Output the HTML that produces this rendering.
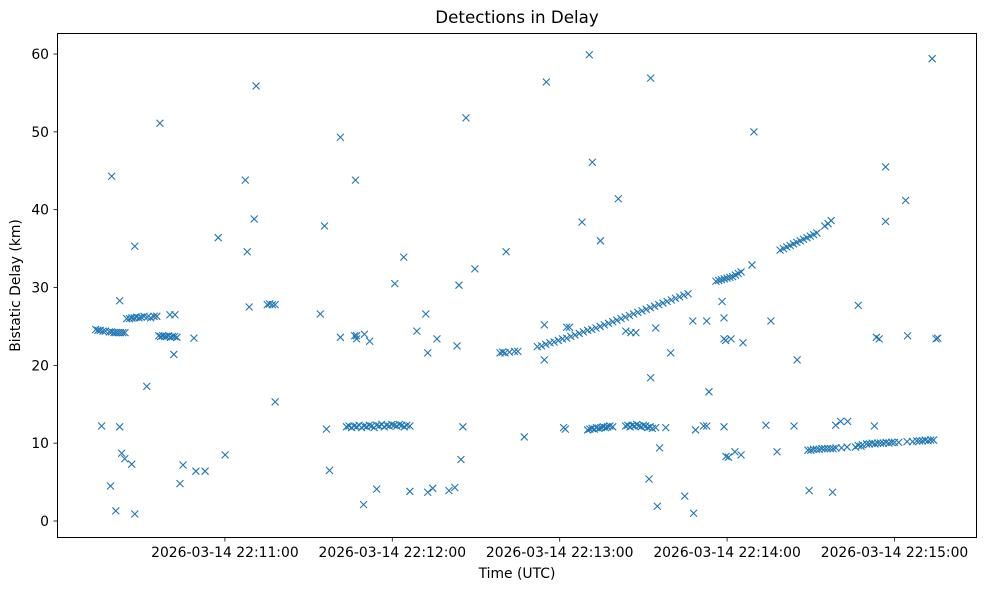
<!DOCTYPE html>
<html><head><meta charset="utf-8"><style>
body{margin:0;background:#fff}
svg{display:block;font-family:"DejaVu Sans","Liberation Sans",sans-serif}
</style></head><body>
<svg id="chart" width="987" height="590" viewBox="0 0 987 590" xmlns="http://www.w3.org/2000/svg">
<rect width="987" height="590" fill="#fff"/>
<text x="517" y="23" font-size="16.7" text-anchor="middle" fill="#000">Detections in Delay</text>
<text x="517" y="578" font-size="13.9" text-anchor="middle">Time (UTC)</text>
<text transform="translate(20,285.5) rotate(-90)" font-size="13.9" text-anchor="middle">Bistatic Delay (km)</text>
<g id="marks"></g>
<g id="axes"></g>
<rect x="57.5" y="33.5" width="919" height="504" fill="none" stroke="#000" stroke-width="1"/>
</svg>
<script>
const xTickSec=[60,120,180,240,300];
const xTickLabels=["2026-03-14 22:11:00","2026-03-14 22:12:00","2026-03-14 22:13:00","2026-03-14 22:14:00","2026-03-14 22:15:00"];
const yTicks=[0,10,20,30,40,50,60];
const clusterTimes=[
[13.7,14.5,15.3,16.3,17.2,18.6,19.4,20.2,21,21.8,22.6,23.4,24.2],
[24.8,25.8,26.6,27.5,28.3,29.2,30,31,32.2,33.4,34.6,35.6],
[36.3,37,37.7,38.4,39.1,39.8,40.5,41.2,42,42.8],
[75.2,76,77,78],
[103.6,104.5,105.4,106.3,107.2,108.1,109,109.9,110.8,111.7,112.6,113.5,114.4,115.3,116.2,117.1,118,118.9,119.8,120.7,121.6,122.5,123.4,124.3,125.2,126.3],
[158.6,159.5,160.4,162,163.8,165],
[172,173.5,175,176.5,178,179.5,181,182.5,184,185.5,187,188.5,190,191.5,193,194.5,196,197.5,199,200.5,202,203.5,205,206.5,208,209.5,211,212.5,214,215.5,217,218.5,220,221.5,223,224.5,226],
[236,237,238,239,240,241,242,243,244,245],
[259,260.2,261.4,262.6,263.8,265,266.2,267.4,268.6,269.8,271,272.2,275,276.2,277.3],
[190,190.8,191.6,192.4,193.2,194,194.8,195.6,196.4,197.2,198,199],
[203.6,204.4,205.2,206,206.8,207.6,208.4,209.2,210,210.8,211.6,212.4,213.2,214.4],
[269,270,271,272,273,274,275,276,277,278,279,281,283,286,288],
[287,288.5,290,291,292,293,294,295,296,297,298,299,300,301.5],
[304.5,306.5,308,309,310,311,312,313,314]
];
const clusterDelays=[
[24.6,24.5,24.5,24.4,24.4,24.3,24.3,24.2,24.2,24.2,24.2,24.2,24.2],
[26.0,26.0,26.1,26.1,26.2,26.1,26.2,26.3,26.2,26.1,26.3,26.3],
[23.8,23.7,23.8,23.7,23.7,23.8,23.6,23.7,23.7,23.6],
[27.8,27.9,27.8,27.8],
[12.1,12.2,12.0,12.2,12.1,12.3,12.0,12.2,12.1,12.3,12.2,12.0,12.3,12.2,12.4,12.1,12.3,12.2,12.4,12.3,12.2,12.4,12.3,12.1,12.3,12.2],
[21.6,21.7,21.6,21.7,21.8,21.8],
[22.4,22.5,22.7,22.9,23.0,23.2,23.4,23.5,23.7,23.9,24.1,24.3,24.5,24.6,24.8,25.0,25.2,25.4,25.6,25.8,26.0,26.2,26.4,26.6,26.8,27.0,27.2,27.4,27.6,27.8,28.0,28.2,28.4,28.6,28.8,29.0,29.2],
[30.8,30.9,31.0,31.1,31.2,31.3,31.4,31.6,31.8,32.0],
[34.8,35.0,35.2,35.4,35.6,35.8,36.0,36.2,36.4,36.6,36.8,37.0,37.9,38.2,38.6],
[11.7,11.8,11.9,11.8,12.0,11.9,12.0,12.1,12.0,12.1,12.2,12.1],
[12.2,12.3,12.1,12.3,12.2,12.4,12.2,12.1,12.3,12.2,12.0,12.1,11.9,12.0],
[9.1,9.1,9.2,9.2,9.2,9.3,9.3,9.3,9.3,9.3,9.4,9.4,9.5,9.5,9.6],
[9.7,9.8,9.9,9.9,10.0,9.9,10.0,10.0,10.0,10.1,10.0,10.1,10.1,10.1],
[10.2,10.2,10.3,10.3,10.3,10.4,10.3,10.4,10.4]
];
const outliers=[[15.8,12.2],[19.4,44.3],[19,4.5],[20.9,1.3],[22.3,28.3],[22.3,12.1],[23,8.7],[24.1,8.0],[26.6,7.3],[27.7,0.9],[27.7,35.3],[32,17.3],[36.7,51.1],[40.3,26.5],[42.1,26.5],[41.7,21.4],[43.9,4.8],[45,7.2],[48.9,23.5],[49.6,6.4],[52.9,6.4],[57.6,36.4],[60.1,8.5],[67.3,43.8],[68,34.6],[68.7,27.5],[70.5,38.8],[71.2,55.9],[78,15.3],[94.2,26.6],[95.7,37.9],[96.4,11.8],[97.5,6.5],[101.4,23.6],[101.4,49.3],[106.5,23.8],[107.2,23.8],[106.8,43.8],[107.2,23.4],[109.7,2.1],[110,24],[111.9,23.1],[114.4,4.1],[120.9,30.5],[124.1,33.9],[126.3,3.8],[128.8,24.4],[132,26.6],[132.7,3.7],[132.7,21.6],[134.5,4.2],[136,23.4],[140.3,3.9],[142.4,4.3],[143.2,22.5],[143.9,30.3],[144.6,7.9],[145.3,12.1],[146.4,51.8],[149.6,32.4],[160.8,34.6],[167.3,10.8],[174.5,25.2],[174.5,20.7],[175.2,56.4],[182.5,24.9],[183.5,24.9],[181.4,12],[182,11.8],[188,38.4],[190.6,59.9],[191.7,46.1],[194.6,36],[201,41.4],[203.7,24.4],[205.5,24.2],[207.3,24.2],[212,5.4],[212.6,56.9],[212.6,18.4],[214.4,24.8],[215,1.9],[215.8,9.4],[218,12],[219.8,21.6],[224.8,3.2],[227.7,25.7],[228,1],[228.7,11.7],[231.6,12.2],[232.7,12.2],[232.7,25.7],[233.5,16.6],[238.2,28.2],[238.9,26.1],[238.9,23.4],[239.5,23.2],[241.4,23.4],[238.9,12.1],[239.6,8.3],[240.5,8.2],[242.8,8.9],[245,8.5],[245.7,22.9],[248.9,32.9],[249.6,50],[253.9,12.3],[255.7,25.7],[257.9,8.9],[264,12.2],[265.1,20.7],[269.4,3.9],[277.8,3.7],[278.9,12.3],[280.7,12.8],[283.2,12.8],[287,27.7],[292.8,12.2],[293.5,23.6],[294.5,23.4],[296.8,45.5],[296.8,38.5],[304,41.2],[304.7,23.8],[313.5,59.4],[314.9,23.4],[315.5,23.5]];

const NS='http://www.w3.org/2000/svg';
function xScale(t){return 57.5+t*2.79;}
function yScale(v){return 521-v*7.783;}
const marks=document.getElementById('marks');
const axes=document.getElementById('axes');
function mk(tag,attrs,parent){const e=document.createElementNS(NS,tag);for(const k in attrs)e.setAttribute(k,attrs[k]);parent.appendChild(e);return e;}
const pts=[];
clusterTimes.forEach((arr,i)=>arr.forEach((t,j)=>pts.push([t,clusterDelays[i][j]])));
outliers.forEach(p=>pts.push(p));
pts.forEach(p=>{
  const x=xScale(p[0]),y=yScale(p[1]),r=3.5;
  const el=mk('path',{d:`M${x-r},${y-r}L${x+r},${y+r}M${x-r},${y+r}L${x+r},${y-r}`,stroke:'#1f77b4','stroke-width':1.1,fill:'none'},marks);
  
  
});
xTickSec.forEach((t,i)=>{
  const x=xScale(t);
  const l=mk('line',{x1:x,x2:x,y1:538,y2:541.5,stroke:'#000','stroke-width':0.8},axes);
  
  
  const tx=mk('text',{x:x,y:557,'font-size':13.9,'text-anchor':'middle'},axes);
  tx.textContent=xTickLabels[i];
  
  
});
yTicks.forEach(v=>{
  const y=yScale(v);
  const l=mk('line',{x1:53.5,x2:57,y1:y,y2:y,stroke:'#000','stroke-width':0.8},axes);
  
  
  const tx=mk('text',{x:49,y:y+5,'font-size':13.9,'text-anchor':'end'},axes);
  tx.textContent=String(v);
  
  
});
</script>
</body></html>
